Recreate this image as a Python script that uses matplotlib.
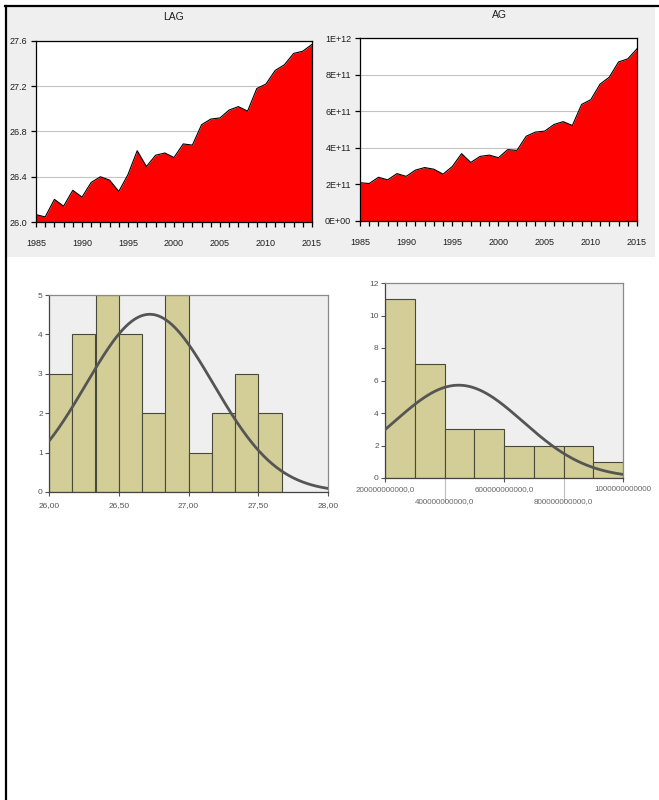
import numpy as np
import matplotlib
matplotlib.use("Agg")
import matplotlib.pyplot as plt
from matplotlib.patches import Rectangle
from matplotlib.lines import Line2D
from matplotlib.ticker import MultipleLocator, FixedLocator, FuncFormatter

plt.rcParams['font.family'] = ['Liberation Sans', 'DejaVu Sans']

# ---- data -------------------------------------------------------------
years = list(range(1985, 2016))

lag = [26.065, 26.045, 26.20, 26.14, 26.28, 26.22, 26.35, 26.40, 26.37, 26.27,
       26.42, 26.63, 26.49, 26.59, 26.61, 26.57, 26.69, 26.68, 26.86, 26.91,
       26.92, 26.99, 27.02, 26.98, 27.18, 27.22, 27.34, 27.39, 27.49, 27.51,
       27.57]

ag = [2.09e11, 2.05e11, 2.39e11, 2.25e11, 2.59e11, 2.44e11, 2.78e11, 2.92e11,
      2.83e11, 2.56e11, 2.98e11, 3.68e11, 3.20e11, 3.53e11, 3.60e11, 3.46e11,
      3.90e11, 3.86e11, 4.63e11, 4.86e11, 4.91e11, 5.27e11, 5.43e11, 5.22e11,
      6.37e11, 6.63e11, 7.48e11, 7.86e11, 8.69e11, 8.86e11, 9.41e11]

lag_ticks = [26.0, 26.4, 26.8, 27.2, 27.6]
ag_ticks = [0, 2e11, 4e11, 6e11, 8e11, 1e12]

lag_hist_ticks = [26.0, 26.5, 27.0, 27.5, 28.0]
lag_hist_labels = ["26,00", "26,50", "27,00", "27,50", "28,00"]
ag_hist_ticks = [2e11, 4e11, 6e11, 8e11, 1e12]
ag_hist_labels = ["200000000000,0", "400000000000,0", "600000000000,0",
                  "800000000000,0", "1000000000000"]

# ---- figure helpers ---------------------------------------------------
W, H = 659, 800
fig = plt.figure(figsize=(W / 100, H / 100), dpi=100)
fig.patch.set_facecolor('white')


def px_axes(x0, y0, x1, y1):
    return fig.add_axes([x0 / W, 1 - y1 / H, (x1 - x0) / W, (y1 - y0) / H])


# page borders and grey graph panel
fig.add_artist(Rectangle((7 / W, 1 - 257 / H), (655 - 7) / W, (257 - 7) / H,
                         transform=fig.transFigure, facecolor='#efefef',
                         edgecolor='none', zorder=-5))
fig.add_artist(Line2D([6 / W, 6 / W], [0, 1 - 5.5 / H], transform=fig.transFigure,
                      color='black', lw=1.6, zorder=10))
fig.add_artist(Line2D([5 / W, 1], [1 - 6 / H, 1 - 6 / H], transform=fig.transFigure,
                      color='black', lw=1.6, zorder=10))

TXT = '#1e1e1e'


def area_chart(ax, y, ymin, ymax, ticks, fmt, title, title_xy):
    ax.set_facecolor('white')
    ax.fill_between(years, y, ymin, color='#ff0000', lw=0, zorder=2)
    ax.plot(years, y, color='black', lw=0.8, zorder=3)
    ax.set_xlim(1985, 2015)
    ax.set_ylim(ymin, ymax)
    ax.yaxis.set_major_locator(FixedLocator(ticks))
    ax.yaxis.set_major_formatter(FuncFormatter(fmt))
    ax.xaxis.set_major_locator(MultipleLocator(5))
    ax.xaxis.set_minor_locator(MultipleLocator(1))
    ax.grid(axis='y', color='#c4c4c4', lw=0.8, zorder=1)
    ax.set_axisbelow(True)
    ax.tick_params(axis='both', which='both', direction='out', length=3.5,
                   width=0.9, color='black', labelsize=6.5, labelcolor=TXT)
    ax.tick_params(axis='x', which='both', pad=9)
    ax.tick_params(axis='y', pad=3)
    for s in ax.spines.values():
        s.set_color('black')
        s.set_linewidth(0.9)
    fig.text(title_xy[0] / W, 1 - title_xy[1] / H, title, ha='center',
             va='center', fontsize=7.5, color=TXT)


ax1 = px_axes(36, 41, 312, 222)
area_chart(ax1, lag, 26.0, 27.6, lag_ticks, lambda v, p: f"{v:.1f}", "LAG", (174, 17))

ax2 = px_axes(360, 38, 637, 221)
area_chart(ax2, ag, 0, 1e12, ag_ticks, lambda v, p: f"{v:.0E}", "AG", (499, 15))

# ---- histograms -------------------------------------------------------
BAR = '#d3ce97'
BG = '#efefef'
CURVE = '#555555'
LBL = '#555555'


def histogram(ax, data, edges, xlim, ylim, yticks):
    data = np.asarray(data)
    counts, _ = np.histogram(data, bins=edges)
    ax.set_facecolor(BG)
    ax.bar(edges[:-1], counts, width=np.diff(edges), align='edge', color=BAR,
           edgecolor='#4a4a3a', lw=0.8, zorder=2)
    mu, sd = data.mean(), data.std(ddof=1)
    bw = edges[1] - edges[0]
    xs = np.linspace(xlim[0], xlim[1], 400)
    ys = len(data) * bw * np.exp(-0.5 * ((xs - mu) / sd) ** 2) / (sd * np.sqrt(2 * np.pi))
    ax.plot(xs, ys, color=CURVE, lw=2.0, zorder=3, solid_capstyle='round')
    ax.set_xlim(*xlim)
    ax.set_ylim(*ylim)
    ax.set_yticks(yticks)
    ax.set_yticklabels([str(t) for t in yticks])
    for name, s in ax.spines.items():
        s.set_color('#8a8a8a')
        s.set_linewidth(0.9)
    ax.spines['left'].set_color('#444444')
    ax.spines['bottom'].set_color('#444444')
    ax.tick_params(axis='both', direction='out', length=3, width=0.8,
                   color='#555555', labelsize=6, labelcolor=LBL, pad=1.5)


ax3 = px_axes(49, 295, 328, 492)
lag_edges = 26.0 + np.arange(11) / 6.0
histogram(ax3, lag, lag_edges, (26.0, 28.0), (0, 5), [0, 1, 2, 3, 4, 5])
ax3.set_xticks(lag_hist_ticks)
ax3.set_xticklabels(lag_hist_labels)
ax3.tick_params(axis='x', pad=4)

ax4 = px_axes(385, 283, 623, 478)
ag_edges = np.arange(2e11, 1.0001e12, 1e11)
histogram(ax4, ag, ag_edges, (2e11, 1e12), (0, 12), [0, 2, 4, 6, 8, 10, 12])
ax4.set_xticks(ag_hist_ticks)
ax4.set_xticklabels([lab if i % 2 == 0 else "\n" + lab
                     for i, lab in enumerate(ag_hist_labels)])
ax4.tick_params(axis='x', labelsize=5.8, pad=3, labelcolor='#666666')
for i, t in enumerate(ax4.xaxis.get_major_ticks()):
    t.label1.set_linespacing(2.0)
    if i % 2 == 1:
        t.tick1line.set_markersize(17)
        t.tick1line.set_markeredgecolor('#bdbdbd')

fig.savefig("out.png", dpi=100)
